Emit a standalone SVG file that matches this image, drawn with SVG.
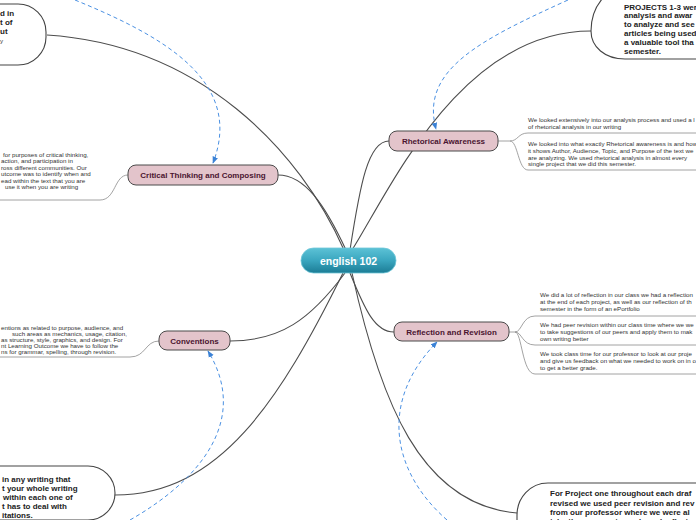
<svg xmlns="http://www.w3.org/2000/svg" width="696" height="520" viewBox="0 0 696 520">
<defs>
<linearGradient id="cg" x1="0" y1="0" x2="0" y2="1">
<stop offset="0" stop-color="#5cc2d6"/>
<stop offset="0.5" stop-color="#3aa6bf"/>
<stop offset="1" stop-color="#1b7c95"/>
</linearGradient>
<marker id="ah" viewBox="0 0 10 10" refX="9" refY="5" markerWidth="7" markerHeight="7" orient="auto-start-reverse" markerUnits="userSpaceOnUse">
<path d="M0,1 L10,5 L0,9 Z" fill="#3b82d6"/>
</marker>
</defs>
<style>
.ln{fill:none;stroke:#4d4d4d;stroke-width:1.1}
.br{fill:none;stroke:#8c8c8c;stroke-width:0.8}
.ds{fill:none;stroke:#4a90e2;stroke-width:1;stroke-dasharray:4,3}
.nd{fill:#e3c4cb;stroke:#4a4a4a;stroke-width:1}
.nt{font-family:"Liberation Sans",Arial,sans-serif;font-weight:bold;font-size:8px;fill:#4a1530;text-anchor:middle}
.sm{font-family:"Liberation Sans",Arial,sans-serif;font-size:6.2px;fill:#333}
.bd{font-family:"Liberation Sans",Arial,sans-serif;font-weight:bold;font-size:8px;fill:#222}
.bx{fill:#fff;stroke:#444;stroke-width:1.1}
</style>
<rect width="696" height="520" fill="#fff"/>
<g id="connectors">
<path class="ln" d="M344,250 C300,150 200,45 47,35"/>
<path class="ln" d="M346,250 C325,205 305,175 278,175"/>
<path class="ln" d="M350,250 C360,185 368,141 389,141"/>
<path class="ln" d="M352,250 C390,190 460,31 591,31"/>
<path class="ln" d="M350,273 C365,310 375,332 394,332"/>
<path class="ln" d="M352,273 C380,400 420,505 517,513"/>
<path class="ln" d="M345,273 C310,320 280,341 230,341"/>
<path class="ln" d="M343,273 C280,400 220,495 115,495"/>
<path class="br" d="M128,175 C114,175 116,200 100,200 L0,200"/>
<path class="br" d="M159,341 C145,341 146,357 130,357 L0,357"/>
<path class="br" d="M498,141 L510,141 C518,141 518,133 528,133 L696,133"/>
<path class="br" d="M510,141 C518,141 518,170 528,170 L696,170"/>
<path class="br" d="M509,332 L515,332 C522,332 522,316 535,316 L696,316"/>
<path class="br" d="M515,332 C522,332 522,345 535,345 L696,345"/>
<path class="br" d="M515,332 C522,332 522,374 535,374 L696,374"/>
<path class="ds" d="M75,0 C160,35 245,80 213,163" marker-end="url(#ah)"/>
<path class="ds" d="M568,0 C480,40 420,70 436,129" marker-end="url(#ah)"/>
<path class="ds" d="M130,520 C200,480 250,420 208,351" marker-end="url(#ah)"/>
<path class="ds" d="M447,520 C390,470 380,400 437,342" marker-end="url(#ah)"/>
</g>
<g id="center">
<rect x="301" y="248" width="95" height="25" rx="12.5" fill="url(#cg)" stroke="#6fc6d8" stroke-width="0.8"/>
<text x="348.5" y="265" font-family="Liberation Sans, Arial, sans-serif" font-weight="bold" font-size="10.5" fill="#fff" text-anchor="middle">english 102</text>
</g>
<g id="rhetorical">
<rect class="nd" x="389" y="131" width="109" height="20" rx="8"/>
<text class="nt" x="443.5" y="144">Rhetorical Awareness</text>
</g>
<g id="critical">
<rect class="nd" x="128" y="165" width="150" height="20" rx="8"/>
<text class="nt" x="203" y="178">Critical Thinking and Composing</text>
</g>
<g id="conventions">
<rect class="nd" x="159" y="331" width="71" height="19" rx="8"/>
<text class="nt" x="194.5" y="343.5">Conventions</text>
</g>
<g id="reflection">
<rect class="nd" x="394" y="322" width="115" height="19" rx="8"/>
<text class="nt" x="451.5" y="334.5">Reflection and Revision</text>
</g>
<g id="topleft">
<rect class="bx" x="-60" y="4" width="106" height="61" rx="28"/>
<text class="bd" x="0" y="15.5">d in</text>
<text class="bd" x="0" y="24.5">t of</text>
<text class="bd" x="0" y="33.5">ut</text>
<text class="sm" x="0" y="42.5" font-size="7" fill="#777">y</text>
</g>
<g id="topright">
<path class="bx" d="M612,-10 C598,0 591,15 591,31 C591,47 605,59 625,59 L700,59 L700,-10 Z"/>
<text class="bd" x="624" y="9.5">PROJECTS 1-3 wer</text>
<text class="bd" x="624" y="18.3">analysis and awar</text>
<text class="bd" x="624" y="27.1">to analyze and see</text>
<text class="bd" x="624" y="35.9">articles being used</text>
<text class="bd" x="624" y="44.7">a valuable tool tha</text>
<text class="bd" x="624" y="53.5">semester.</text>
</g>
<g id="bottomleft">
<rect class="bx" x="-60" y="466" width="175" height="54" rx="27"/>
<text class="bd" x="2" y="482">in any writing that</text>
<text class="bd" x="2" y="491">t your whole writing</text>
<text class="bd" x="3" y="500">within each one of</text>
<text class="bd" x="2" y="509">t has to deal with</text>
<text class="bd" x="2" y="517.5">itations.</text>
</g>
<g id="bottomright">
<path class="bx" d="M700,483 L548,483 C530,483 517,498 517,515 L517,525 L700,525 Z"/>
<text class="bd" x="550" y="496">For Project one throughout each draf</text>
<text class="bd" x="550" y="505.5">revised we used peer revision and rev</text>
<text class="bd" x="550" y="515">from our professor where we were al</text>
<text class="bd" x="550" y="524">take the comments made and reflect</text>
</g>
<g id="critical-text">
<text class="sm" x="3" y="156.5">for purposes of critical thinking,</text>
<text class="sm" x="1" y="163">action, and participation in</text>
<text class="sm" x="1" y="169.5">ross different communities. Our</text>
<text class="sm" x="1" y="176">utcome was to identify when and</text>
<text class="sm" x="1" y="182.5">ead within the text that you are</text>
<text class="sm" x="5" y="189">use it when you are writing</text>
</g>
<g id="conventions-text">
<text class="sm" x="1" y="330">entions as related to purpose, audience, and</text>
<text class="sm" x="12" y="336">such areas as mechanics, usage, citation,</text>
<text class="sm" x="1" y="342">as structure, style, graphics, and design. For</text>
<text class="sm" x="1" y="348">nt Learning Outcome we have to follow the</text>
<text class="sm" x="1" y="354">ns for grammar, spelling, through revision.</text>
</g>
<g id="rhetorical-text">
<text class="sm" x="528" y="122">We looked extensively into our analysis process and used a l</text>
<text class="sm" x="528" y="129">of rhetorical analysis in our writing</text>
<text class="sm" x="528" y="146">We looked into what exactly Rhetorical awareness is and how</text>
<text class="sm" x="528" y="153">it shows Author, Audience, Topic, and Purpose of the text we</text>
<text class="sm" x="528" y="159.5">are analyzing. We used rhetorical analysis in almost every</text>
<text class="sm" x="528" y="166">single project that we did this semester.</text>
</g>
<g id="reflection-text">
<text class="sm" x="540" y="297">We did a lot of reflection in our class we had a reflection</text>
<text class="sm" x="540" y="304">at the end of each project, as well as our reflection of th</text>
<text class="sm" x="540" y="311">semester in the form of an ePortfolio</text>
<text class="sm" x="540" y="327">We had peer revision within our class time where we we</text>
<text class="sm" x="540" y="334">to take suggestions of our peers and apply them to mak</text>
<text class="sm" x="540" y="340.5">own writing better</text>
<text class="sm" x="540" y="356">We took class time for our professor to look at our proje</text>
<text class="sm" x="540" y="363">and give us feedback on what we needed to work on in o</text>
<text class="sm" x="540" y="369.5">to get a better grade.</text>
</g>
</svg>
